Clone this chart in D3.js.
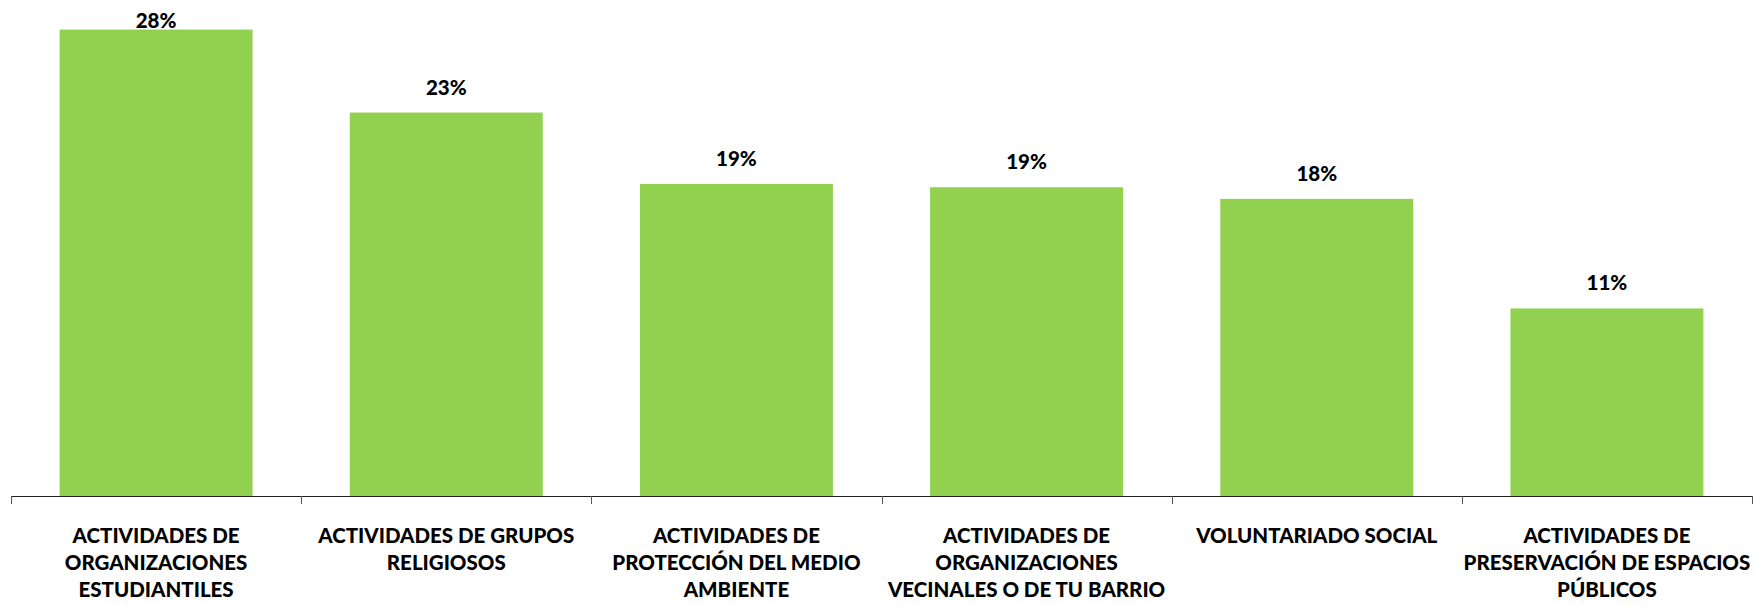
<!DOCTYPE html>
<html>
<head>
<meta charset="utf-8">
<script src="https://cdn.jsdelivr.net/npm/d3@7"></script>
<style>
  html, body { margin: 0; padding: 0; background: #ffffff; }
  svg { display: block; }
</style>
</head>
<body>
<svg id="chart" width="1755" height="605"></svg>
<script>
const categories = [
  "ACTIVIDADES DE ORGANIZACIONES ESTUDIANTILES",
  "ACTIVIDADES DE GRUPOS RELIGIOSOS",
  "ACTIVIDADES DE PROTECCIÓN DEL MEDIO AMBIENTE",
  "ACTIVIDADES DE ORGANIZACIONES VECINALES O DE TU BARRIO",
  "VOLUNTARIADO SOCIAL",
  "ACTIVIDADES DE PRESERVACIÓN DE ESPACIOS PÚBLICOS"
];
const categoryLines = [
  ["ACTIVIDADES DE", "ORGANIZACIONES", "ESTUDIANTILES"],
  ["ACTIVIDADES DE GRUPOS", "RELIGIOSOS"],
  ["ACTIVIDADES DE", "PROTECCIÓN DEL MEDIO", "AMBIENTE"],
  ["ACTIVIDADES DE", "ORGANIZACIONES", "VECINALES O DE TU BARRIO"],
  ["VOLUNTARIADO SOCIAL"],
  ["ACTIVIDADES DE", "PRESERVACIÓN DE ESPACIOS", "PÚBLICOS"]
];
const values = [0.281, 0.231, 0.188, 0.186, 0.179, 0.113];
const valueLabels = ["28%", "23%", "19%", "19%", "18%", "11%"];

const svg = d3.select("#chart");
const left = 11, right = 1752, axisY = 496;
const font = "Lato, 'Open Sans', sans-serif";

const x = d3.scaleBand().domain(categories).range([left, right]).paddingInner(0.335).paddingOuter(0.1675);
const y = d3.scaleLinear().domain([0, 0.30]).range([axisY, -2]);

const step = (right - left) / categories.length;
const tickXs = d3.range(categories.length + 1).map(i => left + i * step);

svg.selectAll("rect.bar")
  .data(values)
  .join("rect")
  .attr("class", "bar")
  .attr("x", (d, i) => x(categories[i]))
  .attr("width", x.bandwidth())
  .attr("y", d => y(d))
  .attr("height", d => axisY - y(d))
  .attr("fill", "#92D050");

svg.append("line")
  .attr("x1", left).attr("x2", right)
  .attr("y1", axisY + 0.5).attr("y2", axisY + 0.5)
  .attr("stroke", "#222").attr("stroke-width", 1.2);

svg.selectAll("line.tick")
  .data(tickXs)
  .join("line")
  .attr("class", "tick")
  .attr("x1", d => Math.round(d) + 0.5).attr("x2", d => Math.round(d) + 0.5)
  .attr("y1", axisY).attr("y2", axisY + 8)
  .attr("stroke", "#555").attr("stroke-width", 1);

svg.selectAll("text.val")
  .data(values)
  .join("text")
  .attr("class", "val")
  .attr("x", (d, i) => x(categories[i]) + x.bandwidth() / 2)
  .attr("y", d => Math.max(y(d) - 18, 28))
  .attr("text-anchor", "middle")
  .attr("font-family", font)
  .attr("font-weight", 900)
  .attr("font-size", 20.5)
  .attr("fill", "#000")
  .text((d, i) => valueLabels[i]);

const cat = svg.selectAll("text.cat")
  .data(categoryLines)
  .join("text")
  .attr("class", "cat")
  .attr("text-anchor", "middle")
  .attr("font-family", font)
  .attr("font-weight", 900)
  .attr("font-size", 20.5)
  .attr("fill", "#000")
  .attr("transform", (d, i) => `translate(${x(categories[i]) + x.bandwidth() / 2},543)`);

cat.selectAll("tspan")
  .data(d => d)
  .join("tspan")
  .attr("x", 0)
  .attr("y", (d, j) => j * 27)
  .text(d => d);
</script>
</body>
</html>
